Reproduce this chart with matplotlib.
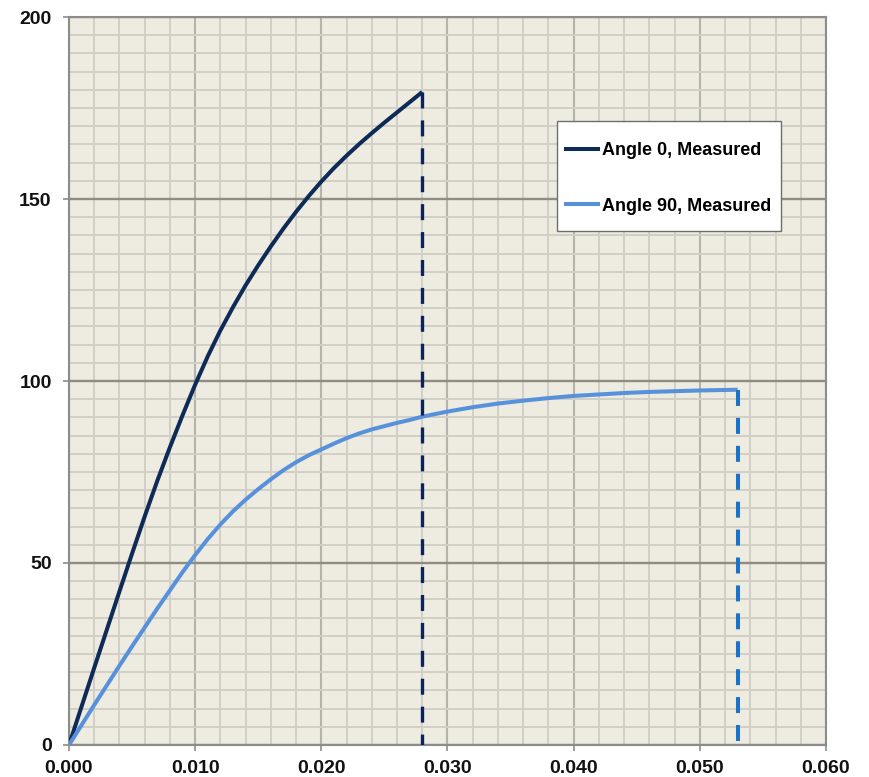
import matplotlib
matplotlib.use("Agg")
import matplotlib.pyplot as plt
from matplotlib.ticker import MultipleLocator, FormatStrFormatter
from matplotlib.path import Path

plt.rcParams['font.family'] = ['Liberation Sans', 'DejaVu Sans']
plt.rcParams['lines.scale_dashes'] = False

# Measured load curves
strain_0 = [0.000, 0.001, 0.002, 0.003, 0.004, 0.005, 0.006, 0.007, 0.008, 0.009,
            0.010, 0.011, 0.012, 0.013, 0.014, 0.015, 0.016, 0.017, 0.018, 0.019,
            0.020, 0.021, 0.022, 0.023, 0.024, 0.025, 0.026, 0.027, 0.028]
stress_0 = [0.0, 10.6, 21.2, 31.7, 42.2, 52.6, 62.8, 72.6, 81.8, 90.6,
            99.0, 106.8, 113.9, 120.3, 126.3, 131.8, 137.0, 141.9, 146.5, 150.8,
            154.8, 158.5, 161.9, 165.1, 168.1, 171.0, 173.8, 176.6, 179.4]

strain_90 = [0.000, 0.001, 0.002, 0.003, 0.004, 0.005, 0.006, 0.007, 0.008, 0.009,
             0.010, 0.011, 0.012, 0.013, 0.014, 0.015, 0.016, 0.017, 0.018, 0.019,
             0.020, 0.021, 0.022, 0.023, 0.024, 0.025, 0.026, 0.027, 0.028, 0.029,
             0.030, 0.032, 0.034, 0.036, 0.038, 0.040, 0.042, 0.044, 0.046, 0.048,
             0.050, 0.053]
stress_90 = [0.0, 5.5, 11.0, 16.4, 21.8, 27.1, 32.3, 37.5, 42.5, 47.5,
             52.2, 56.6, 60.6, 64.2, 67.4, 70.3, 73.0, 75.5, 77.7, 79.6,
             81.2, 82.8, 84.3, 85.6, 86.7, 87.6, 88.5, 89.3, 90.2, 90.9,
             91.6, 92.8, 93.8, 94.6, 95.3, 95.9, 96.3, 96.7, 97.0, 97.2,
             97.4, 97.6]

labels = ["Angle 0, Measured", "Angle 90, Measured"]
x_ticks = [0.000, 0.010, 0.020, 0.030, 0.040, 0.050, 0.060]
y_ticks = [0, 50, 100, 150, 200]

c_dark = "#0e2b57"
c_light = "#5791dc"
c_dark_dash = "#0b2358"
c_light_dash = "#1b72c6"

fig = plt.figure(figsize=(8.69, 7.77), dpi=100)
ax = fig.add_axes([0.0794, 0.0412, 0.8711, 0.9369])
ax.set_facecolor("#eeebe0")

ax.set_xlim(x_ticks[0], x_ticks[-1])
ax.set_ylim(y_ticks[0], y_ticks[-1])
ax.set_xticks(x_ticks)
ax.set_yticks(y_ticks)
ax.xaxis.set_minor_locator(MultipleLocator(0.002))
ax.yaxis.set_minor_locator(MultipleLocator(5))
ax.xaxis.set_major_formatter(FormatStrFormatter("%.3f"))

ax.grid(which="minor", color="#d2d0c6", linewidth=1.4)
ax.grid(which="major", axis="x", color="#b5b4ac", linewidth=1.5)
ax.grid(which="major", axis="y", color="#8e8d83", linewidth=1.7)
ax.set_axisbelow(True)

for s in ax.spines.values():
    s.set_color("#8c8c8c")
    s.set_linewidth(1.5)

ax.tick_params(which="minor", length=0)
ax.tick_params(which="major", length=4.5, width=1.2, color="#8c8c8c",
               labelsize=14, labelcolor="#111111")
ax.tick_params(axis="x", pad=6)
ax.tick_params(axis="y", pad=8)
for t in ax.get_xticklabels() + ax.get_yticklabels():
    t.set_fontweight("bold")

ax.plot(strain_0, stress_0, color=c_dark, linewidth=2.9, label=labels[0],
        solid_capstyle="butt", solid_joinstyle="round", zorder=3)
ax.plot(strain_90, stress_90, color=c_light, linewidth=2.9, label=labels[1],
        solid_capstyle="butt", solid_joinstyle="round", zorder=3)

# failure drop lines at the end of each curve
ax.plot([strain_0[-1], strain_0[-1]], [stress_0[-1], 0], color=c_dark_dash,
        linewidth=2.4, dashes=(11.5, 8.6), dash_capstyle="butt", zorder=3)
ax.plot([strain_90[-1], strain_90[-1]], [stress_90[-1], 0], color=c_light_dash,
        linewidth=2.9, dashes=(11.5, 8.6), dash_capstyle="butt", zorder=3)


def tall_box(x0, y0, width, height, mutation_size):
    """Legend frame with extra room above and below the entries."""
    top = 0.78 * mutation_size
    bottom = 0.50 * mutation_size
    right = 0.15 * mutation_size
    x1, y1 = x0 + width + right, y0 + height
    return Path([(x0, y0 - bottom), (x1, y0 - bottom), (x1, y1 + top),
                 (x0, y1 + top), (x0, y0 - bottom)], closed=True)


leg = ax.legend(loc="upper left", bbox_to_anchor=(0.645, 0.838),
                fancybox=False, framealpha=1, edgecolor="#6e6e6e",
                prop={"weight": "bold", "size": 13}, labelspacing=2.15,
                handlelength=2.0, handletextpad=0.1, borderpad=0.39,
                borderaxespad=0)
frame = leg.get_frame()
frame.set_linewidth(1.0)
frame.set_boxstyle(tall_box)
for h in leg.get_lines():
    h.set_linewidth(2.9)

fig.savefig("out.png", dpi=100, facecolor="white")
